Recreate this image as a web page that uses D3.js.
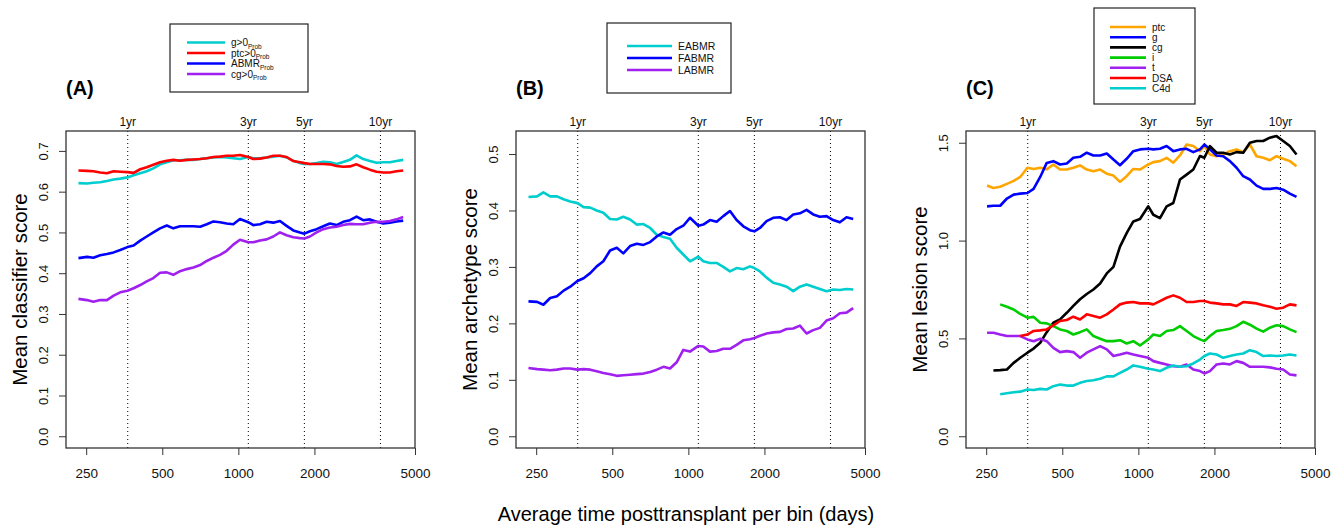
<!DOCTYPE html>
<html>
<head>
<meta charset="utf-8">
<script src="https://cdn.jsdelivr.net/npm/d3@7"></script>
<style>
  body { margin: 0; background: #fff; }
  svg { font-family: "Liberation Sans", Arial, sans-serif; }
</style>
</head>
<body>
<div id="chart"></div>
<script>
/* Mean scores vs time posttransplant, three panels */

// days posttransplant (bin average) shared by every series
const days = [233, 252, 267, 284, 302, 321, 341, 364, 385, 409, 434, 461, 490, 521, 553, 588, 625, 664, 706, 750,
  797, 846, 899, 955, 1015, 1095, 1146, 1218, 1294, 1375, 1461, 1552, 1650, 1753, 1825, 1920, 2040, 2167, 2303, 2447,
  2600, 2763, 2936, 3119, 3315, 3521, 3742, 3976, 4225, 4489];

// (A) classifier scores
const classG = [.621,.620,.622,.623,.626,.630,.632,.635,.640,.645, .650,.657,.667,.672,.677,.677,.678,.678,.680,.682,
  .684,.685,.684,.682,.680,.685,.682,.682,.684,.686, .688,.684,.676,.670,.668,.668,.670,.673,.672,.668,
  .673,.678,.689,.680,.675,.671,.672,.672,.675,.678];
const classPtc = [.652,.651,.650,.647,.645,.650,.649,.648,.646,.655, .660,.666,.672,.676,.678,.676,.678,.679,.680,.682,
  .685,.686,.688,.688,.690,.685,.680,.681,.684,.688, .688,.685,.675,.672,.670,.668,.668,.668,.667,.663,
  .661,.662,.667,.660,.654,.649,.647,.647,.650,.652];
const classAbmr = [.437,.440,.438,.444,.447,.451,.457,.464,.468,.480, .490,.500,.510,.517,.510,.515,.515,.515,.514,.520,
  .527,.525,.522,.520,.533,.525,.518,.520,.526,.524, .528,.516,.505,.500,.497,.503,.508,.515,.522,.518,
  .526,.530,.539,.530,.532,.526,.522,.524,.527,.529];
const classCg = [.337,.334,.330,.334,.334,.345,.353,.357,.363,.371, .380,.388,.401,.402,.396,.405,.410,.414,.420,.430,
  .438,.445,.455,.470,.482,.476,.476,.480,.483,.490, .500,.493,.488,.486,.485,.490,.500,.508,.512,.514,
  .518,.521,.520,.520,.524,.526,.526,.528,.532,.538];

// (B) archetype scores
const archE = [.424,.425,.432,.425,.425,.420,.416,.413,.406,.405, .400,.396,.385,.384,.389,.384,.375,.376,.369,.357,
  .353,.350,.334,.322,.310,.318,.310,.307,.307,.300, .292,.298,.296,.301,.298,.292,.281,.272,.269,.265,
  .257,.265,.269,.265,.261,.257,.260,.259,.261,.260];
const archF = [.239,.238,.233,.245,.248,.258,.265,.275,.280,.289, .301,.310,.329,.334,.324,.337,.341,.339,.344,.354,
  .361,.357,.367,.373,.387,.373,.375,.383,.380,.390, .399,.383,.372,.365,.363,.369,.381,.387,.388,.383,
  .393,.395,.401,.393,.389,.390,.383,.379,.388,.385];
const archL = [.121,.119,.118,.117,.118,.120,.120,.118,.119,.118, .115,.112,.110,.107,.108,.109,.110,.111,.114,.118,
  .123,.120,.131,.153,.150,.160,.159,.150,.151,.155, .155,.162,.170,.172,.174,.178,.182,.184,.185,.190,
  .191,.196,.182,.188,.192,.205,.209,.218,.219,.227];

// (C) lesion scores (null = no bin)
const lesPtc = [null,1.281,1.269,1.275,1.290,1.305,1.325,1.372,1.366,1.372, 1.364,1.389,1.363,1.363,1.372,1.384,1.363,1.354,1.363,1.342,
  1.332,1.300,1.329,1.366,1.363,1.389,1.401,1.406,1.423,1.398, 1.435,1.491,1.483,1.457,1.483,1.440,1.431,1.440,1.457,1.466,
  1.452,1.491,1.431,1.423,1.411,1.431,1.418,1.406,1.380,null];
const lesG = [null,1.175,1.178,1.178,1.215,1.235,1.240,1.243,1.264,1.325, 1.397,1.406,1.389,1.394,1.423,1.428,1.449,1.435,1.435,1.445,
  1.414,1.385,1.418,1.457,1.466,1.469,1.466,1.469,1.483,1.457, 1.466,1.469,1.452,1.466,1.491,1.466,1.435,1.431,1.406,1.372,
  1.329,1.312,1.281,1.264,1.264,1.269,1.260,1.240,1.223,null];
const lesCg = [null,null,.336,.338,.341,.375,.401,.427,.448,.478, .532,.580,.597,.631,.666,.700,.727,.750,.781,.832,
  .866,.969,1.038,1.098,1.110,1.175,1.132,1.115,1.175,1.192, 1.312,1.337,1.363,1.432,1.423,1.483,1.449,1.449,1.440,1.452,
  1.449,1.500,1.509,1.509,1.526,1.534,1.509,1.483,1.440,null];
const lesI = [null,null,null,.674,.662,.648,.625,.606,.610,.580, .577,.563,.546,.538,.520,.532,.546,.512,.498,.486,
  .486,.491,.474,.486,.464,.495,.520,.512,.538,.543, .563,.538,.512,.495,.486,.512,.538,.543,.549,.563,
  .585,.570,.550,.535,.555,.567,.563,.546,.532,null];
const lesT = [null,.529,.529,.520,.512,.512,.512,.495,.486,.498, .486,.452,.430,.435,.430,.401,.427,.444,.461,.444,
  .410,.418,.427,.418,.410,.401,.384,.375,.367,.358, .355,.367,.341,.333,.321,.333,.367,.372,.367,.384,
  .375,.355,.355,.355,.352,.345,.341,.316,.311,null];
const lesDsa = [null,null,null,null,null,null,.512,.520,.538,.541, .546,.567,.589,.594,.611,.597,.623,.615,.606,.623,
  .648,.674,.683,.686,.679,.679,.674,.691,.708,.720, .708,.686,.686,.691,.691,.683,.679,.674,.674,.666,
  .686,.683,.679,.669,.662,.652,.657,.674,.669,null];
const lesC4d = [null,null,null,.215,.220,.225,.228,.239,.236,.242, .239,.256,.264,.259,.259,.273,.282,.286,.294,.306,
  .306,.324,.341,.362,.355,.345,.341,.333,.350,.362, .355,.358,.372,.392,.410,.423,.418,.401,.410,.418,
  .423,.440,.430,.410,.413,.410,.413,.418,.413,null];

// axis ticks
const xTicks = [250, 500, 1000, 2000, 5000];
const yearDays = [365, 1095, 1825, 3650];
const yearLabels = ["1yr", "3yr", "5yr", "10yr"];
const classTicks = [0, 0.1, 0.2, 0.3, 0.4, 0.5, 0.6, 0.7];
const archTicks = [0, 0.1, 0.2, 0.3, 0.4, 0.5];
const lesTicks = [0, 0.5, 1.0, 1.5];

const width = 1331, height = 525,
    plotTop = 131, plotBottom = 448, panelW = 349;

const svg = d3.select("#chart")
    .append("svg")
    .attr("width", width)
    .attr("height", height);

const panels = [
  { left: 66, tag: "(A)", title: "Mean classifier score", ydom: [-0.0288, 0.7488], ticks: classTicks,
    series: [
      { name: "g>0", sub: "Prob", color: "#00CDCD", values: classG },
      { name: "ptc>0", sub: "Prob", color: "#FF0000", values: classPtc },
      { name: "ABMR", sub: "Prob", color: "#0000FF", values: classAbmr },
      { name: "cg>0", sub: "Prob", color: "#A020F0", values: classCg }],
    legend: { x: 170, y: 24, w: 138, h: 68, x1: 187, x2: 225, row0: 42.5, step: 10.5, fs: 10 } },
  { left: 516, tag: "(B)", title: "Mean archetype score", ydom: [-0.0208, 0.5408], ticks: archTicks,
    series: [
      { name: "EABMR", color: "#00CDCD", values: archE },
      { name: "FABMR", color: "#0000FF", values: archF },
      { name: "LABMR", color: "#A020F0", values: archL }],
    legend: { x: 607, y: 23, w: 124, h: 70, x1: 627, x2: 672, row0: 46, step: 12, fs: 10.5 } },
  { left: 966, tag: "(C)", title: "Mean lesion score", ydom: [-0.06, 1.56], ticks: lesTicks,
    series: [
      { name: "ptc", color: "#FFA500", values: lesPtc },
      { name: "g", color: "#0000FF", values: lesG },
      { name: "cg", color: "#000000", values: lesCg },
      { name: "i", color: "#00CD00", values: lesI },
      { name: "t", color: "#A020F0", values: lesT },
      { name: "DSA", color: "#FF0000", values: lesDsa },
      { name: "C4d", color: "#00CDCD", values: lesC4d }],
    legend: { x: 1094, y: 8, w: 101, h: 96, x1: 1110, x2: 1146, row0: 27, step: 10.2, fs: 10 } }
];

for (const p of panels) {
  let x = d3.scaleLog()
      .domain([208, 5000])
      .range([p.left, p.left + panelW]);

  let y = d3.scaleLinear()
      .domain(p.ydom)
      .range([plotBottom, plotTop]);

  // x axis
  let gx = svg.append("g")
      .attr("transform", `translate(0,${plotBottom})`)
      .call(d3.axisBottom(x).tickValues(xTicks).tickFormat(d3.format("d")).tickSize(7));
  gx.select(".domain").remove();
  gx.selectAll("line").attr("stroke", "#333");
  gx.selectAll("text")
      .attr("font-family", "Liberation Sans, Arial, sans-serif")
      .attr("font-size", 13.5)
      .attr("fill", "#111")
      .attr("y", 30).attr("dy", 0);

  // y axis, labels turned like R's las=0
  let gy = svg.append("g")
      .attr("transform", `translate(${p.left},0)`)
      .call(d3.axisLeft(y).tickValues(p.ticks).tickFormat(d3.format(".1f")).tickSize(7));
  gy.select(".domain").remove();
  gy.selectAll("line").attr("stroke", "#333");
  gy.selectAll("text")
      .attr("font-family", "Liberation Sans, Arial, sans-serif")
      .attr("font-size", 13)
      .attr("fill", "#111")
      .attr("transform", "rotate(-90)")
      .attr("x", 0).attr("y", -18).attr("dy", 0)
      .attr("text-anchor", "middle");

  // year markers
  svg.append("g")
    .selectAll("line")
    .data(yearDays)
    .join("line")
      .attr("x1", d => x(d)).attr("x2", d => x(d))
      .attr("y1", plotTop).attr("y2", plotBottom)
      .attr("stroke", "#000")
      .attr("stroke-width", 1)
      .attr("stroke-dasharray", "1,3");

  svg.append("g")
    .selectAll("text")
    .data(yearDays)
    .join("text")
      .attr("x", d => x(d))
      .attr("y", 126)
      .attr("text-anchor", "middle")
      .attr("font-size", 12)
      .attr("fill", "#111")
      .text((d, i) => yearLabels[i]);

  // lines
  let line = d3.line()
      .defined(d => d[1] != null)
      .x(d => x(d[0]))
      .y(d => y(d[1]));

  for (const s of p.series) {
    svg.append("path")
        .datum(days.map((d, i) => [d, s.values[i]]))
        .attr("d", line)
        .attr("fill", "none")
        .attr("stroke", s.color)
        .attr("stroke-width", 2.6)
        .attr("stroke-linejoin", "round");
  }

  // frame
  svg.append("rect")
      .attr("x", p.left).attr("y", plotTop)
      .attr("width", panelW).attr("height", plotBottom - plotTop)
      .attr("fill", "none")
      .attr("stroke", "#333")
      .attr("stroke-width", 1.3);

  // panel tag and y title
  svg.append("text")
      .attr("x", p.left)
      .attr("y", 95)
      .attr("font-size", 20)
      .attr("font-weight", "bold")
      .attr("fill", "#000")
      .text(p.tag);

  svg.append("text")
      .attr("transform", `translate(${p.left - 39.5},${(plotTop + plotBottom) / 2}) rotate(-90)`)
      .attr("text-anchor", "middle")
      .attr("font-size", 20.5)
      .attr("fill", "#000")
      .text(p.title);

  // legend
  let L = p.legend;
  svg.append("rect")
      .attr("x", L.x).attr("y", L.y)
      .attr("width", L.w).attr("height", L.h)
      .attr("fill", "#fff")
      .attr("stroke", "#222")
      .attr("stroke-width", 1.2);

  let rows = svg.append("g")
    .selectAll("g")
    .data(p.series)
    .join("g")
      .attr("transform", (d, i) => `translate(0,${L.row0 + i * L.step})`);

  rows.append("line")
      .attr("x1", L.x1).attr("x2", L.x2)
      .attr("stroke", d => d.color)
      .attr("stroke-width", 2.6);

  let t = rows.append("text")
      .attr("x", L.x2 + 6)
      .attr("dy", "0.35em")
      .attr("font-size", L.fs)
      .attr("fill", "#111");
  t.append("tspan").text(d => d.name);
  t.filter(d => d.sub)
    .append("tspan")
      .attr("dy", 2.5)
      .attr("font-size", 6.5)
      .text(d => d.sub);
}

svg.append("text")
    .attr("x", 686)
    .attr("y", 521)
    .attr("text-anchor", "middle")
    .attr("font-size", 20)
    .attr("fill", "#000")
    .text("Average time posttransplant per bin (days)");
</script>
</body>
</html>
